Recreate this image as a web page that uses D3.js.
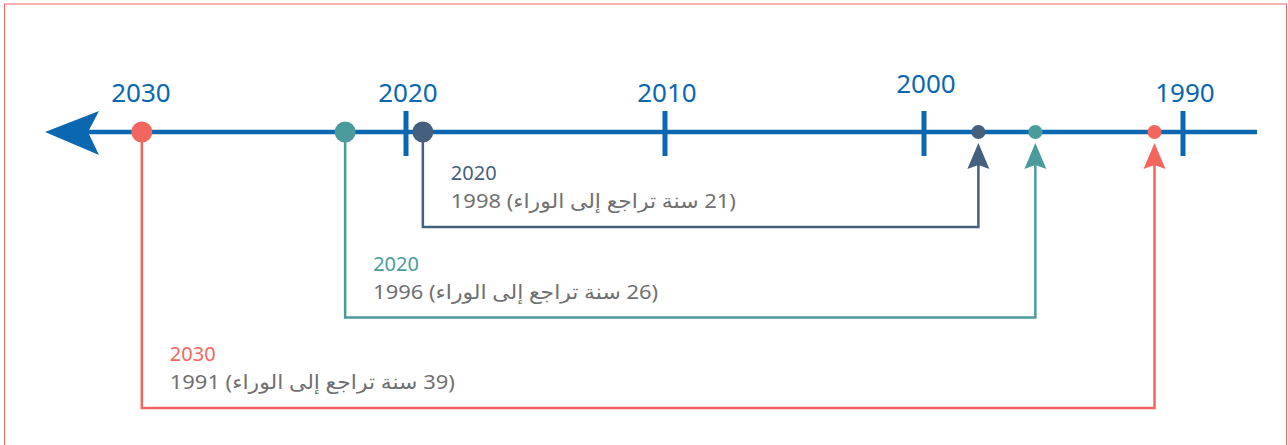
<!DOCTYPE html>
<html>
<head>
<meta charset="utf-8">
<script src="https://cdn.jsdelivr.net/npm/d3@7"></script>
<style>
  html, body { margin: 0; padding: 0; background: #fff; }
  svg { display: block; font-family: "Noto Sans", "Open Sans", "DejaVu Sans", sans-serif; }
</style>
</head>
<body>
<div id="chart"></div>
<script>
// timeline labels (years run right to left)
var axisLabels = [2030, 2020, 2010, 2000, 1990];
var tickYears = [2020, 2010, 2000, 1990];

// the three jumps back in time
var fromYear = [2020, 2020, 2030];
var toYear = [1998, 1996, 1991];
var yearsBack = [21, 26, 39];
// where the marks sit on the line (in years)
var startAt = [2019.35, 2022.35, 2030.2];
var endAt = [1997.9, 1995.7, 1991.1];
var colors = ["#455f7f", "#4b9b9d", "#f2665f"];

var width = 1288, height = 445;
var axisY = 132;

var svg = d3.select("#chart").append("svg")
	.attr("width", width)
	.attr("height", height);

// frame
svg.append("rect")
	.attr("x", 4.5).attr("y", 4)
	.attr("width", 1282).attr("height", 500)
	.attr("fill", "none")
	.attr("stroke", "#f0655f")
	.attr("stroke-width", 1);

var x = d3.scaleLinear().domain([2020, 1990]).range([406, 1183]);
var level = d3.scalePoint().domain(d3.range(fromYear.length)).range([227, 408]);

// main line + arrow
var blue = "#0a67b0";
svg.append("line")
	.attr("x1", 88).attr("x2", 1257)
	.attr("y1", axisY).attr("y2", axisY)
	.attr("stroke", blue).attr("stroke-width", 4.5);

svg.append("path")
	.attr("d", "M45," + axisY + "L99," + (axisY - 21) + "L88," + axisY + "L99," + (axisY + 23) + "Z")
	.attr("fill", blue);

svg.append("g").selectAll("line")
	.data(tickYears)
	.enter().append("line")
	.attr("x1", function(d){ return x(d); })
	.attr("x2", function(d){ return x(d); })
	.attr("y1", axisY - 21).attr("y2", axisY + 24)
	.attr("stroke", blue).attr("stroke-width", 5);

svg.append("g").selectAll("text")
	.data(axisLabels)
	.enter().append("text")
	.attr("x", function(d){ return x(d) + (d === 2030 ? -6 : 2); })
	.attr("y", function(d){ return d === 2000 ? 93 : 102; })
	.attr("text-anchor", "middle")
	.attr("fill", blue)
	.attr("font-size", 26)
	.text(function(d){ return d; });

var idx = d3.range(fromYear.length);

// connectors
var g = svg.append("g");
g.selectAll("path.conn")
	.data(idx)
	.enter().append("path")
	.attr("class", "conn")
	.attr("fill", "none")
	.attr("stroke", function(i){ return colors[i]; })
	.attr("stroke-width", 2.5)
	.attr("d", function(i){
		var x0 = x(startAt[i]), x1 = x(endAt[i]), y = level(i);
		return "M" + x0 + "," + axisY + "V" + y + "H" + x1 + "V" + (axisY + 33);
	});

g.selectAll("path.head")
	.data(idx)
	.enter().append("path")
	.attr("class", "head")
	.attr("fill", function(i){ return colors[i]; })
	.attr("d", function(i){
		var cx = x(endAt[i]), t = axisY + 11;
		return "M" + cx + "," + t + "L" + (cx + 11) + "," + (t + 26) + "L" + cx + "," + (t + 22) + "L" + (cx - 11) + "," + (t + 26) + "Z";
	});

g.selectAll("circle.start")
	.data(idx)
	.enter().append("circle")
	.attr("class", "start")
	.attr("cx", function(i){ return x(startAt[i]); })
	.attr("cy", axisY)
	.attr("r", 10.5)
	.attr("fill", function(i){ return colors[i]; });

g.selectAll("circle.end")
	.data(idx)
	.enter().append("circle")
	.attr("class", "end")
	.attr("cx", function(i){ return x(endAt[i]); })
	.attr("cy", axisY)
	.attr("r", 7)
	.attr("fill", function(i){ return colors[i]; });

// labels
g.selectAll("text.from")
	.data(idx)
	.enter().append("text")
	.attr("class", "from")
	.attr("x", function(i){ return x(startAt[i]) + 28; })
	.attr("y", function(i){ return level(i) - 47; })
	.attr("fill", function(i){ return colors[i]; })
	.attr("font-size", 20)
	.text(function(i){ return fromYear[i]; });

var lineW = 285;
g.selectAll("text.to")
	.data(idx)
	.enter().append("text")
	.attr("class", "to")
	.attr("x", function(i){ return x(startAt[i]) + 28 + lineW; })
	.attr("y", function(i){ return level(i) - 19; })
	.attr("fill", "#707070")
	.attr("font-size", 20)
	.attr("direction", "rtl")
	.attr("text-anchor", "start")
	.attr("textLength", lineW)
	.attr("lengthAdjust", "spacingAndGlyphs")
	.text(function(i){ return "(" + yearsBack[i] + " سنة تراجع إلى الوراء) " + toYear[i]; });
</script>
</body>
</html>
